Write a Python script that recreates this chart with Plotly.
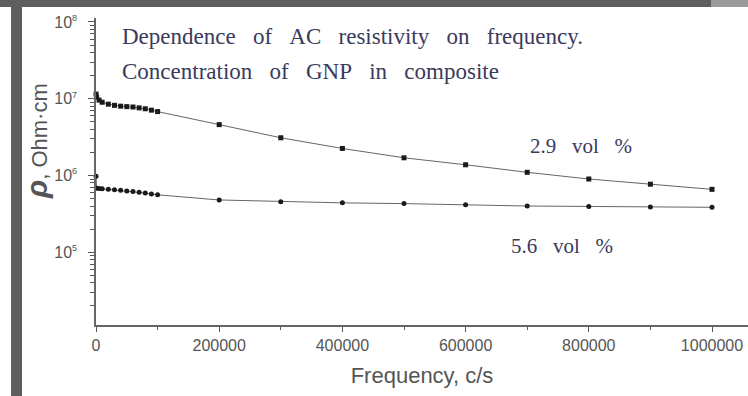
import plotly.graph_objects as go

# Measurement frequencies, Hz (c/s)
freq = [100, 1000, 5000, 10000, 20000, 30000, 40000, 50000, 60000, 70000,
        80000, 90000, 100000, 200000, 300000, 400000, 500000, 600000,
        700000, 800000, 900000, 1000000]

# AC resistivity, Ohm*cm, for the two GNP loadings
rho_29 = [1.15e7, 1.05e7, 9.6e6, 9.0e6, 8.5e6, 8.2e6, 8.0e6, 7.9e6, 7.8e6,
          7.6e6, 7.4e6, 7.1e6, 6.8e6, 4.6e6, 3.1e6, 2.25e6, 1.7e6, 1.38e6,
          1.1e6, 9.0e5, 7.7e5, 6.6e5]
rho_56 = [9.8e5, 6.8e5, 6.75e5, 6.7e5, 6.6e5, 6.5e5, 6.4e5, 6.3e5, 6.2e5,
          6.05e5, 5.9e5, 5.75e5, 5.6e5, 4.8e5, 4.55e5, 4.4e5, 4.3e5, 4.15e5,
          4.0e5, 3.95e5, 3.9e5, 3.85e5]

x_ticks = [0, 200000, 400000, 600000, 800000, 1000000]
x_labels = ["0", "200000", "400000", "600000", "800000", "1000000"]
y_exponents = [5, 6, 7, 8]

# Plot-area geometry in pixels (used to place paper-referenced items)
W, H = 748, 396
L, R, T, B = 96, 0, 18, 71
PW, PH = W - L - R, H - T - B


def px(p):
    return (p - L) / PW


def py(p):
    return (H - B - p) / PH


def spaced(s, n=3):
    return s.replace(" ", "\u00a0" * n)


line_style = dict(color="#666666", width=1)

fig = go.Figure()
fig.add_trace(go.Scatter(x=freq, y=rho_29, mode="lines+markers", line=line_style,
                         marker=dict(color="#1a1a1a", size=5, symbol="square"),
                         cliponaxis=False, name="2.9 vol %"))
fig.add_trace(go.Scatter(x=freq, y=rho_56, mode="lines+markers", line=line_style,
                         marker=dict(color="#1a1a1a", size=5, symbol="circle"),
                         cliponaxis=False, name="5.6 vol %"))

sans = "Liberation Sans, Arial, sans-serif"
serif = "Liberation Serif, Times New Roman, serif"
axis_font = dict(family=sans, size=16, color="#555555")
text_color = "#3a3a5c"

fig.update_layout(
    width=W, height=H,
    margin=dict(l=L, r=R, t=T, b=B, pad=0),
    paper_bgcolor="white", plot_bgcolor="white",
    showlegend=False,
    xaxis=dict(
        range=[0, PW / 616 * 1e6],
        tickvals=x_ticks, ticktext=x_labels,
        ticks="outside", ticklen=5, tickwidth=1.2, tickcolor="#555555",
        minor=dict(ticks="outside", ticklen=3, tickwidth=1.2, dtick=100000,
                   tickcolor="#555555", showgrid=False),
        showline=True, linecolor="#666666", linewidth=1.5,
        showgrid=False, zeroline=False, tickfont=axis_font,
        title=dict(text="Frequency, c/s", standoff=15,
                   font=dict(family=sans, size=22, color="#555555")),
    ),
    yaxis=dict(
        type="log", range=[4.052, 8.052],
        tickvals=[10 ** e for e in y_exponents],
        ticktext=[f"10<sup><span style='font-size:9px'>{e}</span></sup>"
                  for e in y_exponents],
        ticks="outside", ticklen=6, tickwidth=1.2, tickcolor="#555555",
        ticklabelstandoff=8,
        minor=dict(ticks="outside", ticklen=4, tickwidth=1, dtick="D1",
                   tickcolor="#555555", showgrid=False),
        showline=True, linecolor="#666666", linewidth=1.5,
        showgrid=False, zeroline=False, tickfont=axis_font,
    ),
)


def note(x, y, text, font, **kw):
    fig.add_annotation(xref="paper", yref="paper", x=px(x), y=py(y), text=text,
                       showarrow=False, yanchor="middle", font=font,
                       **({"xanchor": "center"} | kw))


# Y-axis title with a bold italic rho
note(36, 141, "<b><i><span style='font-size:30px'>ρ</span></i></b>, Ohm·cm",
     dict(family=sans, size=22, color="#555555"), textangle=-90)

# Caption text inside the plot
note(120, 36, spaced("Dependence of AC resistivity on frequency."),
     dict(family=serif, size=23, color=text_color), xanchor="left")
note(120, 71, spaced("Concentration of GNP in composite"),
     dict(family=serif, size=23, color=text_color), xanchor="left")

# Series labels
note(581, 146, spaced("2.9 vol %"), dict(family=serif, size=21, color=text_color))
note(562, 246, spaced("5.6 vol %"), dict(family=serif, size=21, color=text_color))

# Frame strips around the figure
for x0, x1, y0, y1, c in [(0, 711, 7, 0, "#5e5e5e"), (711, 748, 7, 0, "#9a9a9a"),
                          (11, 22, 396, 7, "#5e5e5e")]:
    fig.add_shape(type="rect", xref="paper", yref="paper", layer="above",
                  x0=px(x0), x1=px(x1), y0=py(y0), y1=py(y1),
                  fillcolor=c, line=dict(width=0))

fig.write_html("out.html")
